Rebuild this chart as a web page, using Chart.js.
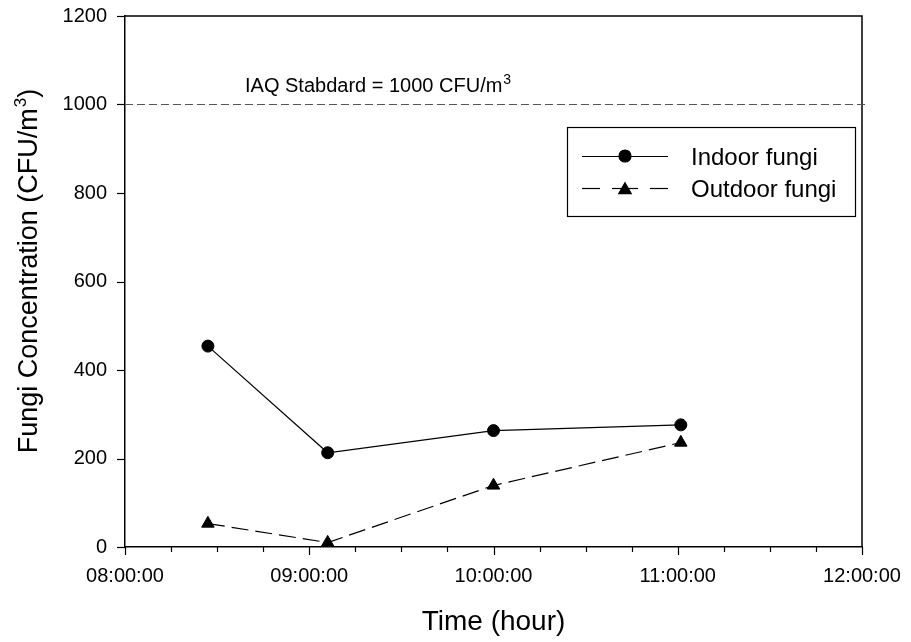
<!DOCTYPE html>
<html><head><meta charset="utf-8">
<script src="https://cdn.jsdelivr.net/npm/chart.js@4"></script>
<style>html,body{margin:0;padding:0;background:#fff}canvas{display:block}</style>
</head><body>
<canvas id="c" width="911" height="642"></canvas>
<script>
// ---- data ----
const sampleTimes = ['08:27', '09:06', '10:00', '11:01'];
const indoorFungi = [454, 213, 263, 276];
const outdoorFungi = [53, 10, 139, 236];
const seriesNames = ['Indoor fungi', 'Outdoor fungi'];
const xMinHour = 8, xMaxHour = 12;        // x tick labels 08:00:00 ... 12:00:00
const yMin = 0, yMax = 1200, yStep = 200; // y tick labels 0 ... 1200
const iaqStandard = 1000;
const iaqLabel = 'IAQ Stabdard = 1000 CFU/m';
const xTitle = 'Time (hour)';
const yTitle = 'Fungi Concentration (CFU/m';

const FONT = "'Liberation Sans', Arial, Helvetica, sans-serif";
const toHour = t => { const [h, m] = t.split(':').map(Number); return h + m / 60; };
const pad2 = n => String(n).padStart(2, '0');

const indoorPts = sampleTimes.map((t, i) => ({x: toHour(t), y: indoorFungi[i]}));
const outdoorPts = sampleTimes.map((t, i) => ({x: toHour(t), y: outdoorFungi[i]}));

const decor = {
  id: 'decor',
  afterDraw(chart) {
    const {ctx, chartArea: a, scales: {x, y}} = chart;
    ctx.save();
    // frame top/right
    ctx.strokeStyle = '#000'; ctx.lineWidth = 1.5;
    ctx.beginPath();
    ctx.moveTo(a.left, a.top); ctx.lineTo(a.right, a.top); ctx.lineTo(a.right, a.bottom);
    ctx.stroke();
    // tick marks
    ctx.lineWidth = 1.2;
    x.ticks.forEach(t => {
      const px = Math.round(x.getPixelForValue(t.value)) + 0.5;
      const len = Number.isInteger(t.value) ? 8 : 5;
      ctx.beginPath(); ctx.moveTo(px, a.bottom); ctx.lineTo(px, a.bottom + len); ctx.stroke();
    });
    y.ticks.forEach(t => {
      const py = Math.round(y.getPixelForValue(t.value)) + 0.5;
      ctx.beginPath(); ctx.moveTo(a.left - 8, py); ctx.lineTo(a.left, py); ctx.stroke();
    });
    // IAQ standard line
    const yS = Math.round(y.getPixelForValue(iaqStandard)) + 0.5;
    ctx.strokeStyle = '#555'; ctx.lineWidth = 1.2; ctx.setLineDash([8, 4]);
    ctx.beginPath(); ctx.moveTo(a.left, yS); ctx.lineTo(a.right + 3, yS); ctx.stroke();
    ctx.setLineDash([]);
    // IAQ label
    ctx.fillStyle = '#000'; ctx.textBaseline = 'alphabetic'; ctx.textAlign = 'left';
    ctx.font = '20px ' + FONT;
    const lx = 245, ly = yS - 13;
    ctx.fillText(iaqLabel, lx, ly);
    const w = ctx.measureText(iaqLabel).width;
    ctx.font = '14px ' + FONT;
    ctx.fillText('3', lx + w + 1, ly - 8);
    // Y title with superscript
    ctx.save();
    ctx.translate(37, 271); ctx.rotate(-Math.PI / 2);
    ctx.font = '27px ' + FONT;
    const w1 = ctx.measureText(yTitle).width;
    const w3 = ctx.measureText(')').width;
    ctx.font = '17px ' + FONT;
    const w2 = ctx.measureText('3').width;
    const total = w1 + w2 + w3 + 1;
    let sx = -total / 2;
    ctx.font = '27px ' + FONT;
    ctx.fillText(yTitle, sx, 0);
    ctx.font = '17px ' + FONT;
    ctx.fillText('3', sx + w1 + 1, -11);
    ctx.font = '27px ' + FONT;
    ctx.fillText(')', sx + w1 + w2 + 1, 0);
    ctx.restore();
    // legend
    ctx.strokeStyle = '#000'; ctx.lineWidth = 1.2;
    ctx.strokeRect(567.5, 127.5, 288, 89);
    const rows = [156, 188];
    const ds = chart.data.datasets;
    rows.forEach((ry, i) => {
      const d = ds[i];
      ctx.strokeStyle = '#000'; ctx.lineWidth = 1.2;
      if (i === 0) {
        ctx.beginPath(); ctx.moveTo(582, ry + 0.5); ctx.lineTo(668, ry + 0.5); ctx.stroke();
      } else {
        [[582, 600], [612, 638], [650, 668]].forEach(([s, e]) => {
          ctx.beginPath(); ctx.moveTo(s, ry + 0.5); ctx.lineTo(e, ry + 0.5); ctx.stroke();
        });
      }
      Chart.helpers.drawPoint(ctx, {pointStyle: d.pointStyle, radius: d.pointRadius, borderWidth: 1, rotation: 0}, 625, ry + (i === 1 ? 2 : 0));
      ctx.fillStyle = '#000';
      ctx.fill();
      ctx.font = '24px ' + FONT; ctx.fillStyle = '#000';
      ctx.fillText(d.label, 691, ry + 8.5);
    });
    ctx.restore();
  }
};

new Chart(document.getElementById('c'), {
  type: 'line',
  data: {
    datasets: [
      {label: seriesNames[0], data: indoorPts, borderColor: '#000', borderWidth: 1.2,
       pointStyle: 'circle', pointRadius: 6, pointBorderWidth: 1,
       pointBackgroundColor: '#000', pointBorderColor: '#000', tension: 0, fill: false},
      {label: seriesNames[1], data: outdoorPts, borderColor: '#000', borderWidth: 1.2, borderDash: [17, 7],
       pointStyle: 'triangle', pointRadius: 7.2, pointBorderWidth: 1,
       pointBackgroundColor: '#000', pointBorderColor: '#000', tension: 0, fill: false}
    ]
  },
  options: {
    responsive: false, animation: false, devicePixelRatio: 1,
    layout: {padding: {left: 0, right: 49, top: 16, bottom: 0}},
    plugins: {legend: {display: false}, tooltip: {enabled: false}},
    scales: {
      x: {
        type: 'linear', min: xMinHour, max: xMaxHour,
        afterFit: s => { s.height = 95; s.paddingLeft = 0; s.paddingRight = 0; },
        grid: {display: false, drawTicks: false},
        border: {display: true, color: '#000', width: 1.5},
        ticks: {stepSize: 0.25, autoSkip: false, maxRotation: 0, padding: 17, color: '#000',
          font: {family: FONT, size: 20},
          callback: v => Number.isInteger(v) ? pad2(v) + ':00:00' : ''},
        title: {display: true, text: xTitle, color: '#000', font: {family: FONT, size: 28},
          padding: {top: 0, bottom: 3}}
      },
      y: {
        min: yMin, max: yMax,
        afterFit: s => { s.width = 125; s.paddingTop = 0; s.paddingBottom = 0; },
        grid: {display: false, drawTicks: false},
        border: {display: true, color: '#000', width: 1.5},
        ticks: {stepSize: yStep, padding: 18, color: '#000', font: {family: FONT, size: 20},
          callback: v => String(v)},
        title: {display: false}
      }
    }
  },
  plugins: [decor]
});
</script>
</body></html>
